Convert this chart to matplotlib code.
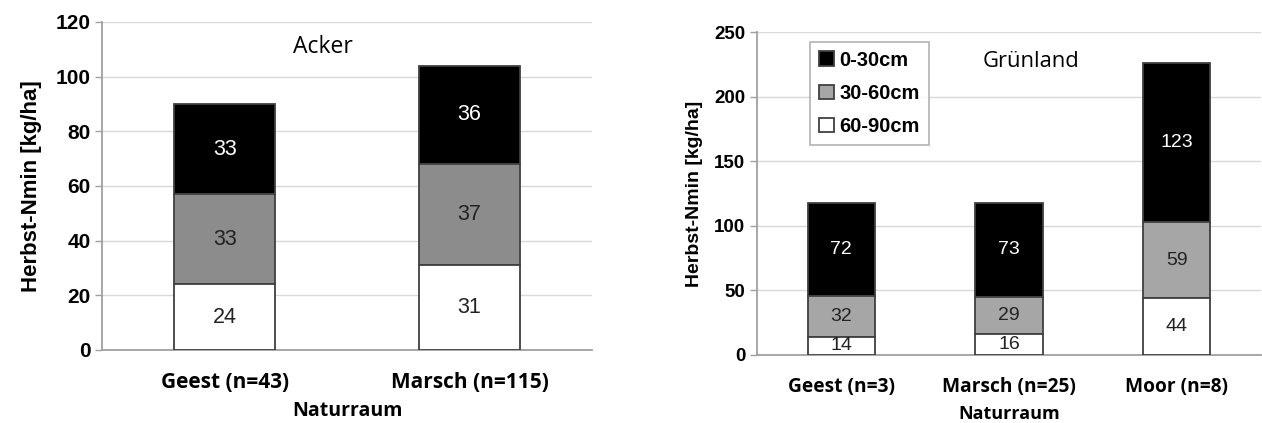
import numpy as np
import matplotlib.pyplot as plt

# Herbst-Nmin nach Naturraum und Bodentiefe (kg/ha)
layers = ['0-30cm', '30-60cm', '60-90cm']

acker_cats = ['Geest (n=43)', 'Marsch (n=115)']
acker_0_30 = [33, 36]
acker_30_60 = [33, 37]
acker_60_90 = [24, 31]

gruen_cats = ['Geest (n=3)', 'Marsch (n=25)', 'Moor (n=8)']
gruen_0_30 = [72, 73, 123]
gruen_30_60 = [32, 29, 59]
gruen_60_90 = [14, 16, 44]

label_font = ['Open Sans', 'DejaVu Sans']
num_font = ['Liberation Sans', 'DejaVu Sans']
edge = '#404040'

fig = plt.figure(figsize=(12.62, 4.23), dpi=100)
ax1 = fig.add_axes([0.081, 0.173, 0.388, 0.775])
ax2 = fig.add_axes([0.600, 0.161, 0.399, 0.763])


def stacked(ax, cats, bottom_vals, mid_vals, top_vals, grey, width, fs):
    x = np.arange(len(cats))
    b1 = np.array(bottom_vals)
    b2 = b1 + np.array(mid_vals)
    bars = [
        ax.bar(x, top_vals, width, bottom=b2, color='black', edgecolor=edge, linewidth=1.3, label=layers[0], zorder=3),
        ax.bar(x, mid_vals, width, bottom=b1, color=grey, edgecolor=edge, linewidth=1.3, label=layers[1], zorder=3),
        ax.bar(x, bottom_vals, width, color='white', edgecolor=edge, linewidth=1.3, label=layers[2], zorder=3),
    ]
    for cont, col in zip(bars, ['white', '#222222', '#222222']):
        ax.bar_label(cont, label_type='center', color=col, fontsize=fs, family=num_font)
    ax.set_xticks(x)
    ax.set_xticklabels(cats, fontweight='bold', family=label_font)
    ax.set_xlim(-0.5, len(cats) - 0.5)
    for s in ['top', 'right']:
        ax.spines[s].set_visible(False)
    for s in ['left', 'bottom']:
        ax.spines[s].set_color('#a0a0a0')
        ax.spines[s].set_linewidth(1.3)
    ax.grid(axis='y', color='#d9d9d9', linewidth=1.0, zorder=0)
    ax.tick_params(axis='x', length=0, pad=16)
    ax.tick_params(axis='y', length=5, color='#a0a0a0', width=1.0)
    return bars


# Acker
stacked(ax1, acker_cats, acker_60_90, acker_30_60, acker_0_30, '#8c8c8c', 0.41, 15.5)
ax1.set_ylim(0, 120)
ax1.set_yticks(range(0, 121, 20))
ax1.tick_params(axis='y', labelsize=15)
ax1.tick_params(axis='x', labelsize=15)
for t in ax1.get_yticklabels():
    t.set_fontweight('bold')
    t.set_family(num_font)
ax1.set_ylabel('Herbst-Nmin [kg/ha]', fontsize=16, fontweight='bold', family=num_font, labelpad=10)
ax1.set_xlabel('Naturraum', fontsize=14, fontweight='bold', family=label_font, labelpad=6)
ax1.text(0.40, 111, 'Acker', fontsize=16.5, family=label_font, ha='center', va='center')

# Grünland
stacked(ax2, gruen_cats, gruen_60_90, gruen_30_60, gruen_0_30, '#a6a6a6', 0.40, 14)
ax2.set_ylim(0, 250)
ax2.set_yticks(range(0, 251, 50))
ax2.tick_params(axis='y', labelsize=13.5)
ax2.tick_params(axis='x', labelsize=13.8)
for t in ax2.get_yticklabels():
    t.set_fontweight('bold')
    t.set_family(num_font)
ax2.set_ylabel('Herbst-Nmin [kg/ha]', fontsize=14, fontweight='bold', family=num_font, labelpad=8)
ax2.set_xlabel('Naturraum', fontsize=13, fontweight='bold', family=label_font, labelpad=6)
ax2.text(1.13, 227, 'Grünland', fontsize=15.8, family=label_font, ha='center', va='center')
leg = ax2.legend(loc='upper left', bbox_to_anchor=(0.105, 0.97), prop={'family': num_font, 'weight': 'bold', 'size': 14.5},
                 frameon=True, fancybox=False, edgecolor='#a0a0a0', handlelength=0.75, handleheight=0.75,
                 handletextpad=0.25, labelspacing=0.7, borderpad=0.45, borderaxespad=0)
leg.get_frame().set_linewidth(1.2)

fig.savefig('out.png', dpi=100)
